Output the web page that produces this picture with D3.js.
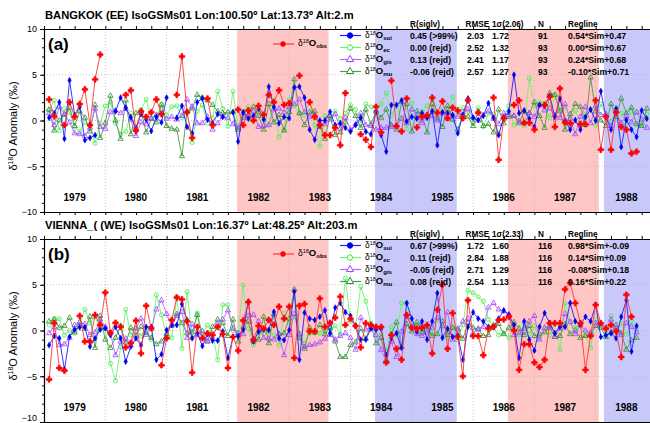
<!DOCTYPE html>
<html>
<head>
<meta charset="utf-8">
<script src="https://cdn.jsdelivr.net/npm/d3@7"></script>
<style>
body { margin: 0; background: #fff; }
text { font-family: "Liberation Sans", Arial, Helvetica, sans-serif; }
</style>
</head>
<body>
<div id="chart"></div>
<script>
// months since Jan 1979, one value per month (null = missing)
var years = [1979, 1980, 1981, 1982, 1983, 1984, 1985, 1986, 1987, 1988];
var yTicks = [-10, -5, 0, 5, 10];
// ENSO shading, in months since Jan 1979
var ensoWarm = [[37.8, 55.7], [90.8, 108.6]];
var ensoCold = [[64.8, 80.8], [109.6, 125]];

var titleA = "BANGKOK (EE) IsoGSMs01 Lon:100.50º Lat:13.73º Alt:2.m";
var titleB = "VIENNA_( (WE) IsoGSMs01 Lon:16.37º Lat:48.25º Alt:203.m";
var sigmaA = "2.06", sigmaB = "2.33";
var statsA = [
  ["0.45 (>99%)", "2.03", "1.72", "91", "0.54*Sim+0.47"],
  ["0.00 (rejd)", "2.52", "1.32", "93", "0.00*Sim+0.67"],
  ["0.13 (rejd)", "2.41", "1.17", "93", "0.24*Sim+0.68"],
  ["-0.06 (rejd)", "2.57", "1.27", "93", "-0.10*Sim+0.71"]
];
var statsB = [
  ["0.67 (>99%)", "1.72", "1.60", "116", "0.98*Sim+-0.09"],
  ["0.11 (rejd)", "2.84", "1.88", "116", "0.14*Sim+0.09"],
  ["-0.05 (rejd)", "2.71", "1.29", "116", "-0.08*Sim+0.18"],
  ["0.08 (rejd)", "2.54", "1.13", "116", "0.16*Sim+0.22"]
];

var obsA = [2.3,0.45,null,-0.5,2.0,0.4,1.8,3.4,-0.5,4.5,7.2,null,
  null,null,null,2.8,3.3,-1.1,1.0,0.4,0.9,2.3,0.7,null,
  null,2.8,7.0,0.9,-1.9,null,null,2.4,-0.5,null,null,null,
  null,1.2,-0.5,1.1,0.0,1.6,0.65,2.8,2.0,3.3,1.7,1.9,
  null,4.9,null,2.0,0.4,-0.5,-1.6,-1.6,-0.8,-2.7,3.0,null,
  null,-1.5,-2.1,-2.9,1.5,-1.3,null,4.35,-0.6,-1.2,2.4,null,
  -0.75,0.4,0.6,2.5,0.85,2.1,0.25,1.4,1.1,0.25,2.2,null,
  0.85,null,null,2.5,-4.3,0.25,null,1.7,2.2,-0.25,-0.25,-1.0,
  null,1.7,2.6,-0.7,3.5,-0.2,-0.3,null,-0.4,-0.4,null,2.2,
  -3.2,0.4,-3.2,0.9,-0.7,-1.0,-3.6,-3.4,null,null];
var suiA = [0.3,0.8,2.0,-2.0,4.4,0.6,1.5,-2.15,-1.9,-1.6,null,null,
  null,1.0,2.5,1.4,0.35,-0.8,0.7,0.1,-1.15,0.4,-0.2,2.5,
  null,0.3,1.6,-0.7,-1.4,2.0,2.4,0.1,-0.3,0.7,0.4,null,
  0.9,-2.3,0.9,0.2,0.5,1.3,0.1,3.7,1.5,-0.3,0.4,0.25,
  3.6,3.7,2.5,-1.0,-2.1,0.0,0.0,0.95,-0.5,-0.3,-0.8,-1.2,
  -0.5,0.3,-1.2,-1.5,1.0,-1.6,-3.4,1.7,1.7,2.2,-0.1,0.4,
  0.2,0.8,0.3,1.0,-2.7,0.9,0.8,0.6,-1.4,0.6,2.4,0.3,
  0.05,0.5,1.9,0.3,-1.6,0.3,1.0,5.0,0.8,1.1,0.2,-0.7,
  1.7,1.6,2.7,0.4,2.4,0.0,-1.0,0.05,-1.0,0.4,1.2,0.0,
  3.2,0.4,-1.0,1.3,-2.9,0.05,-1.0,-1.8,1.1,0.2];
var ecA = [1.1,2.2,-1.1,1.3,0.9,-0.7,-1.2,-0.2,-0.5,-2.5,-0.3,1.6,
  2.0,-0.3,-1.5,-1.2,0.8,-1.2,1.2,2.3,0.2,0.5,1.8,0.6,
  1.5,1.6,0.3,0.8,-2.4,1.0,1.7,-0.3,0.3,3.2,1.3,-0.6,
  3.2,-1.0,1.0,1.5,0.2,1.1,0.6,-0.5,2.3,-1.8,-1.0,2.3,
  1.6,0.8,0.6,2.0,-0.5,-2.8,0.5,0.3,1.0,0.2,0.8,1.7,
  1.2,-0.3,1.8,1.5,0.9,1.8,3.0,0.6,1.5,0.2,-0.9,1.9,
  0.3,1.0,1.6,2.3,0.4,1.2,0.9,2.6,0.6,1.4,1.0,-0.3,
  1.4,-0.7,0.8,0.7,-1.5,0.5,1.6,-0.5,0.0,-0.6,4.6,1.6,
  2.0,1.9,0.3,2.8,1.2,1.5,0.2,1.1,-0.3,0.7,1.2,-0.5,
  1.8,0.6,-0.1,1.2,0.8,-0.4,1.0,0.9,-0.5,0.7];
var gisA = [0.8,-0.5,1.5,0.7,-0.2,-1.4,-1.5,-1.7,-0.8,1.3,-0.7,-0.9,
  0.9,1.1,0.8,1.3,0.1,-1.7,-0.2,-0.4,0.2,0.6,0.8,0.2,
  0.4,0.1,0.5,2.3,1.5,-0.3,-0.3,0.4,-1.0,-0.3,0.4,0.3,
  -0.4,-0.8,0.8,0.5,1.0,-0.7,-0.6,-0.5,1.2,1.3,0.9,1.5,
  1.8,2.3,0.9,0.4,0.6,-0.3,-0.4,0.1,0.7,-0.9,0.3,-1.0,
  -0.4,0.8,-0.5,-0.6,-1.0,-0.8,-0.8,-0.7,-0.6,0.2,-0.3,1.2,
  0.6,-0.3,0.4,0.5,0.0,0.8,0.2,0.5,0.4,0.9,1.2,0.3,
  0.0,0.6,1.0,0.2,-0.4,0.8,0.6,0.5,-0.1,-0.3,0.8,0.4,
  1.7,1.1,1.3,0.6,0.3,1.8,0.2,-1.5,0.4,1.5,-0.3,1.6,
  0.6,0.7,-0.6,1.0,-0.3,0.5,-0.2,0.9,0.1,-0.8];
var muA = [1.2,-1.1,0.0,0.6,1.4,-0.6,1.0,0.3,-1.2,1.7,-1.9,-0.3,
  2.7,0.0,-2.0,2.2,-1.5,0.8,1.0,-1.3,0.2,-0.2,1.7,-0.6,
  -0.9,-1.0,-3.9,1.0,1.3,2.8,2.5,2.2,1.7,1.0,0.8,0.9,
  0.9,-1.0,0.3,0.6,1.5,0.5,-1.0,1.8,-0.2,0.6,-1.1,0.9,
  4.5,0.8,-0.5,0.9,1.0,-0.7,-2.0,0.5,-1.6,-1.3,-0.2,1.3,
  0.5,-0.8,1.2,-0.4,1.0,0.3,1.2,-0.5,-1.0,2.0,1.8,-1.2,
  1.0,0.6,-1.3,1.8,0.2,-0.7,1.6,0.1,-1.0,0.6,0.4,-0.6,
  1.0,-0.6,-0.4,-1.3,1.2,-0.3,0.4,0.5,-0.3,1.0,0.8,2.0,
  0.5,-0.8,3.0,2.8,1.0,-1.0,0.7,1.8,1.5,-0.5,4.7,1.0,
  0.0,-0.6,1.8,0.4,2.4,0.8,1.4,-0.4,-0.6,1.3];

var obsB = [-5.35,0.8,-4.1,-4.4,null,null,1.6,-1.2,-1.2,1.7,0.6,4.15,
  -0.25,0.85,0.4,-1.85,-1.35,1.07,-2.5,2.7,0.25,null,-3.8,-0.85,
  1.15,3.6,3.4,1.0,-4.6,0.4,-0.85,-0.3,-0.5,0.4,-0.4,-4.1,
  -0.7,-2.2,1.1,3.1,-1.0,0.5,0.2,1.15,0.6,2.6,1.3,2.6,
  -3.0,2.7,2.9,-0.1,-0.1,3.5,0.4,0.85,1.4,3.7,0.6,1.3,
  0.5,-1.85,0.8,0.6,0.4,0.4,-3.5,-0.5,-2.0,-3.2,1.7,0.3,
  0.2,0.3,0.6,-2.5,2.25,5.0,-2.0,1.9,-0.7,-5.0,3.3,-0.6,
  -0.6,-2.7,0.2,0.4,1.15,1.2,1.5,0.0,-4.3,-1.5,-1.5,-3.5,
  -4.0,-3.2,0.8,0.8,0.8,4.5,5.2,3.0,0.8,-4.3,-0.6,2.8,
  0.8,0.2,0.6,-0.1,-2.9,3.9,1.5,null,null,null];
var suiB = [-1.6,-0.6,-0.85,-4.25,-0.7,0.1,0.35,0.35,-1.75,-0.85,0.1,0.25,
  -0.5,0.4,-0.85,-3.4,-1.75,-0.85,-1.6,0.4,0.4,-3.2,-2.6,0.05,
  0.6,0.6,2.9,1.15,-0.85,-0.3,-1.7,-0.4,-1.1,-1.1,-0.1,-3.0,
  -0.7,-0.6,0.1,3.15,-1.2,-0.1,0.1,0.05,2.05,-0.85,-1.05,0.05,
  4.25,-3.2,1.95,1.3,1.15,1.5,2.2,-0.3,2.5,3.0,2.0,1.6,
  0.5,-1.0,-1.0,0.2,0.1,0.2,-2.7,-0.85,-0.3,-1.9,3.0,1.3,
  -0.1,1.0,-1.0,1.0,4.1,-0.8,0.2,-0.7,-0.5,-3.2,0.4,2.0,
  1.3,1.0,0.4,0.4,1.3,2.2,1.7,0.6,-3.0,1.0,-1.0,-2.2,
  0.4,1.9,0.8,-0.3,0.4,0.4,3.0,1.0,0.6,1.5,1.0,2.8,
  -0.7,-0.5,-0.3,-0.85,1.5,3.3,-2.3,0.5,null,null];
var ecB = [0.6,1.3,1.3,-0.5,0.0,-0.3,0.6,2.3,0.8,1.5,0.1,0.2,
  -3.6,-5.5,-1.8,2.3,-0.5,0.3,-0.6,0.2,-1.0,3.9,1.7,-0.5,
  -0.8,3.7,-1.95,4.25,-0.8,1.9,-0.3,0.6,-0.3,-3.2,2.8,2.8,
  0.0,-0.2,5.0,0.2,-1.6,-0.3,-0.3,-0.1,-0.5,-1.6,1.9,0.8,
  1.5,-0.3,-1.4,-0.3,-0.3,-0.3,0.2,0.2,0.5,-0.4,5.7,1.0,
  0.5,4.8,3.2,0.8,0.2,-0.5,-2.2,0.4,-0.5,3.0,3.0,0.2,
  0.4,-0.2,0.5,-0.3,1.2,0.4,-0.8,0.3,-1.0,0.6,4.4,4.1,
  3.7,3.2,1.2,0.3,-0.5,-0.3,-0.8,0.2,-0.5,0.8,-0.4,0.5,
  -0.8,0.2,-0.5,0.8,-2.1,3.0,1.0,0.3,0.5,-0.5,-1.9,1.2,
  0.5,-0.3,1.6,0.2,0.8,-0.4,1.0,0.1,null,null];
var gisB = [-0.3,0.4,-1.6,-1.5,-0.8,0.6,0.9,0.7,-0.5,-0.2,1.2,0.4,
  -0.3,-2.7,-1.2,-0.9,-1.6,0.2,1.3,-0.5,0.2,2.3,3.3,1.8,
  0.5,1.6,2.0,-0.8,0.7,-0.5,-0.1,-1.2,-0.8,0.7,1.2,2.2,
  0.2,-0.3,-0.4,1.6,1.7,1.0,-0.8,-0.9,-1.0,-0.4,-2.7,-0.5,
  1.8,-0.4,-1.8,-1.6,-1.5,-1.3,-0.9,-0.5,-1.0,-0.6,-0.3,-0.8,
  -2.1,1.4,0.1,0.4,-0.5,-2.1,-3.4,-1.2,-2.9,-0.1,1.5,0.5,
  -0.4,-0.6,-0.2,0.3,1.4,0.5,2.0,-1.0,0.1,1.0,1.3,-0.3,
  0.2,0.4,2.5,3.0,2.3,2.1,1.8,-0.5,-0.3,0.2,1.0,1.6,
  -1.0,0.3,0.5,-0.7,0.2,1.8,0.9,-0.4,0.6,0.0,-0.2,0.8,
  0.7,0.3,1.2,0.2,-0.5,0.8,0.4,-0.2,null,null];
var muB = [1.0,1.2,0.3,0.5,1.4,-0.2,0.9,0.2,1.5,-1.9,1.6,-1.0,
  -1.9,-0.8,0.5,-1.3,0.3,-0.5,0.4,-0.3,-0.8,-1.5,-1.2,-0.4,
  0.6,1.8,0.8,-0.3,-0.2,1.7,-0.8,-1.2,0.4,1.2,0.8,-0.6,
  1.2,-1.2,0.4,1.0,-1.2,-1.0,1.5,-1.4,1.8,-0.4,-0.3,1.3,
  4.5,-0.8,-2.0,0.3,-0.2,0.6,-0.4,0.3,-1.2,-2.9,-2.9,-1.6,
  -1.3,0.2,-0.9,0.6,-1.4,-0.8,-3.2,-0.4,0.9,-1.8,0.7,-0.1,
  0.9,-0.2,0.4,-0.6,-0.4,1.0,-0.5,0.3,0.2,-0.9,0.8,0.3,
  0.1,-0.6,-0.5,0.6,0.7,-0.4,0.3,0.9,0.2,-0.5,0.5,-0.6,
  -0.4,-0.2,0.3,-0.7,-0.6,0.7,-0.4,0.0,-0.8,-0.6,-0.4,0.5,
  0.3,-0.7,-0.2,0.6,-0.3,-2.1,-1.1,-0.8,null,null];

var width = 650, height = 423;
var svg = d3.select("#chart").append("svg").attr("width", width).attr("height", height);

var x = d3.scaleLinear().domain([0, 120]).range([44, 657]);

var styles = {
  obs: {color: '#ff0000', line: '#ff3838', sym: d3.symbolCross, size: 18, fill: true, sub: 'obs'},
  sui: {color: '#0000ee', line: '#2020ff', sym: d3.symbolDiamond, size: 10, fill: true, sub: 'sui'},
  ec:  {color: '#40ee40', line: '#70f070', sym: d3.symbolCircle, size: 13, fill: false, sub: 'ec'},
  gis: {color: '#a040ff', line: '#b468ff', sym: d3.symbolTriangle, size: 12, fill: false, sub: 'gis'},
  mu:  {color: '#2e8b2e', line: '#4f9a4f', sym: d3.symbolTriangle, size: 12, fill: false, sub: 'mu'}
};

function legendLabel(g, xp, yp, sub) {
  var t = g.append("text").attr("x", xp).attr("y", yp).attr("font-size", 8.5).attr("fill", "#000");
  t.append("tspan").text("δ");
  t.append("tspan").attr("font-size", 5.5).attr("dy", -3).text("18");
  t.append("tspan").attr("font-weight", "bold").attr("font-size", 9.5).attr("dy", 3).text("O");
  t.append("tspan").attr("font-size", 6).attr("font-weight", "bold").attr("dy", 2).text(sub);
}

function drawPanel(top, title, tag, sigma, stats, series) {
  var bottom = top + 183;
  var y = d3.scaleLinear().domain([-10, 10]).range([bottom, top]);
  var g = svg.append("g");
  var clipId = "clip" + tag;
  svg.append("clipPath").attr("id", clipId).append("rect")
    .attr("x", x(0)).attr("y", top).attr("width", x(120) - x(0)).attr("height", bottom - top);

  // ENSO shading
  g.selectAll(".warm").data(ensoWarm).enter().append("rect")
    .attr("x", function(d){ return x(d[0]); }).attr("width", function(d){ return x(d[1]) - x(d[0]); })
    .attr("y", top).attr("height", bottom - top).attr("fill", "#ffc6c6");
  g.selectAll(".cold").data(ensoCold).enter().append("rect")
    .attr("x", function(d){ return x(d[0]); }).attr("width", function(d){ return x(d[1]) - x(d[0]); })
    .attr("y", top).attr("height", bottom - top).attr("fill", "#c8c8fa");

  // grid
  g.selectAll(".vg").data(years.slice(1)).enter().append("line")
    .attr("x1", function(d){ return x((d - 1979) * 12); }).attr("x2", function(d){ return x((d - 1979) * 12); })
    .attr("y1", top).attr("y2", bottom)
    .attr("stroke", "#b8b8b8").attr("stroke-width", 0.8).attr("stroke-dasharray", "1,2");
  g.selectAll(".hg").data([-5, 0, 5]).enter().append("line")
    .attr("x1", x(0)).attr("x2", width)
    .attr("y1", function(d){ return y(d); }).attr("y2", function(d){ return y(d); })
    .attr("stroke", "#b8b8b8").attr("stroke-width", 0.8).attr("stroke-dasharray", "1,2");

  // year labels
  g.selectAll(".yr").data(years).enter().append("text")
    .attr("x", function(d){ return x((d - 1979) * 12 + 6); }).attr("y", y(-8.4) + 4)
    .attr("text-anchor", "middle").attr("font-size", 10).attr("font-weight", "bold").text(function(d){ return d; });

  // series
  var sg = g.append("g").attr("clip-path", "url(#" + clipId + ")");
  var order = ['ec', 'mu', 'gis', 'sui', 'obs'];
  order.forEach(function(k) {
    var st = styles[k];
    var vals = series[k].map(function(v, i){ return {i: i, v: v}; });
    var line = d3.line().defined(function(d){ return d.v !== null; })
      .x(function(d){ return x(d.i + 1); }).y(function(d){ return y(d.v); });
    sg.append("path").datum(vals).attr("d", line).attr("fill", "none")
      .attr("stroke", st.line).attr("stroke-width", 0.9);
    var sym = d3.symbol().type(st.sym).size(st.size);
    sg.selectAll(".m" + k).data(vals.filter(function(d){ return d.v !== null; })).enter().append("path")
      .attr("d", sym)
      .attr("transform", function(d){ return "translate(" + x(d.i + 1) + "," + y(d.v) + ")"; })
      .attr("fill", st.fill ? st.color : "none")
      .attr("stroke", st.color).attr("stroke-width", st.fill ? 0.6 : 0.8);
  });

  // axes
  g.append("g").attr("transform", "translate(" + x(0) + ",0)")
    .call(d3.axisLeft(y).ticks(20).tickSize(2).tickFormat(""))
    .call(function(a){ a.select(".domain").remove(); });
  var ly = g.append("g").attr("transform", "translate(" + x(0) + ",0)")
    .call(d3.axisLeft(y).tickValues(yTicks).tickSize(4).tickPadding(3).tickFormat(d3.format("d")));
  ly.selectAll("text").attr("font-size", 9).attr("font-family", "Liberation Sans, Arial, sans-serif");
  ly.select(".domain").attr("stroke-width", 1.2);
  // keep the bottom label of the lower panel inside the picture
  if (bottom + 5 > height) {
    ly.selectAll(".tick").filter(function(d){ return d === -10; }).select("text").attr("dy", "-0.15em");
  }
  var ticksX = d3.range(0, 121, 3);
  g.append("g").attr("transform", "translate(0," + top + ")")
    .call(d3.axisTop(x).tickValues(ticksX).tickSize(3).tickFormat("").tickSizeOuter(0))
    .select(".domain").attr("stroke-width", 1.2);
  g.append("g").attr("transform", "translate(0," + bottom + ")")
    .call(d3.axisBottom(x).tickValues(ticksX).tickSize(3).tickFormat("").tickSizeOuter(0))
    .select(".domain").attr("stroke-width", 1.2);

  // titles
  g.append("text").attr("x", 45).attr("y", top - 10).attr("font-size", 11.2).attr("font-weight", "bold").text(title);
  g.append("text").attr("x", 48).attr("y", top + 21).attr("font-size", 17).attr("font-weight", "bold").text("(" + tag + ")");

  // obs legend
  g.append("line").attr("x1", 273).attr("x2", 294).attr("y1", top + 15).attr("y2", top + 15)
    .attr("stroke", styles.obs.line).attr("stroke-width", 1.2);
  g.append("path").attr("d", d3.symbol().type(d3.symbolCircle).size(22))
    .attr("transform", "translate(283," + (top + 15) + ")").attr("fill", styles.obs.color);
  legendLabel(g, 298, top + 17, 'obs');

  // stats table
  var cols = [410, 467, 492, 538, 568];
  var heads = ["R(siglv)", "RMSE", "1σ(" + sigma + ")", "N", "Regline"];
  heads.forEach(function(h, j) {
    g.append("text").attr("x", j === 1 ? cols[j] - 1.5 : cols[j]).attr("y", top - 2)
      .attr("font-size", 8.2).attr("font-weight", "bold").text(h);
  });
  ['sui', 'ec', 'gis', 'mu'].forEach(function(k, r) {
    var st = styles[k];
    var yy = top + 6.5 + r * 12;
    g.append("line").attr("x1", 340).attr("x2", 361).attr("y1", yy).attr("y2", yy)
      .attr("stroke", st.line).attr("stroke-width", 1.2);
    g.append("path").attr("d", d3.symbol().type(k === 'sui' ? d3.symbolCircle : st.sym).size(22))
      .attr("transform", "translate(350," + yy + ")")
      .attr("fill", st.fill ? st.color : "#fff").attr("stroke", st.color).attr("stroke-width", 1);
    legendLabel(g, 365, yy + 2, st.sub);
    stats[r].forEach(function(s, j) {
      g.append("text").attr("x", cols[j]).attr("y", yy + 3).attr("font-size", 8.7).attr("font-weight", "bold").text(s);
    });
  });

  // y label
  var yl = g.append("text").attr("transform", "translate(17," + (top + 97) + ") rotate(-90)")
    .attr("text-anchor", "middle").attr("font-size", 11);
  yl.append("tspan").text("δ");
  yl.append("tspan").attr("font-size", 7).attr("dy", -4).text("18");
  yl.append("tspan").attr("dy", 4).text("O Anomaly (‰)");
}

drawPanel(29, titleA, "a", sigmaA, statsA, {obs: obsA, sui: suiA, ec: ecA, gis: gisA, mu: muA});
drawPanel(239, titleB, "b", sigmaB, statsB, {obs: obsB, sui: suiB, ec: ecB, gis: gisB, mu: muB});
</script>
</body>
</html>
